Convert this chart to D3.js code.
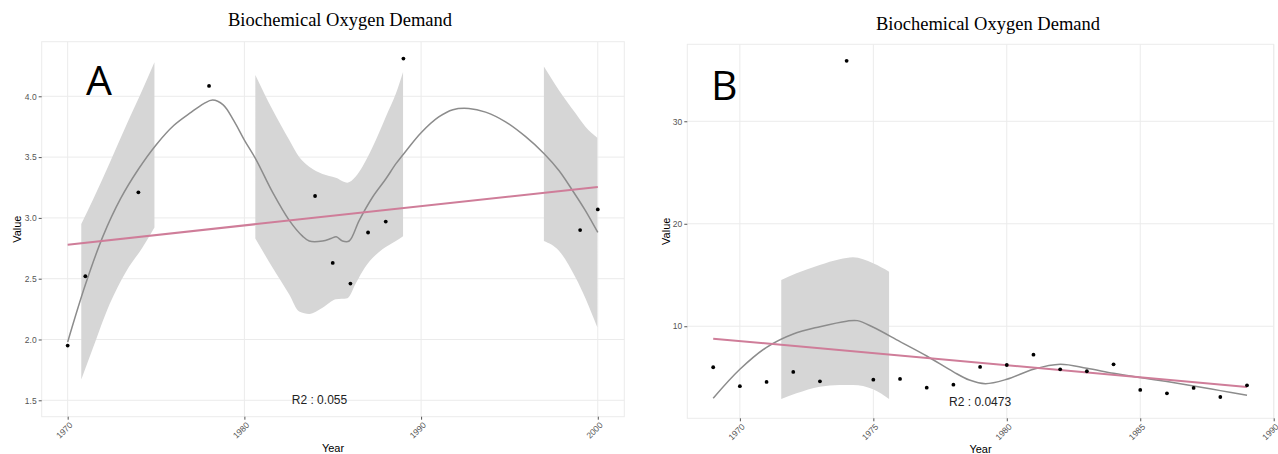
<!DOCTYPE html>
<html><head><meta charset="utf-8">
<script src="https://cdn.jsdelivr.net/npm/d3@7"></script>
<style>html,body{margin:0;padding:0;background:#fff;}svg{display:block;}</style>
</head><body>
<svg id="chart" width="1278" height="454"></svg>
<script>
// ---------- Panel A data ----------
const yearsA  = [1970,1971,1974,1978,1984,1985,1986,1987,1988,1989,1999,2000];
const valuesA = [1.95,2.52,3.21,4.085,3.18,2.63,2.46,2.88,2.97,4.31,2.90,3.07];
const fitYearsA = [1970, 2000];
const fitValuesA = [2.78, 3.255];
const smoothYearsA  = [1970,1971,1972,1973,1974,1975,1976,1977,1977.7,1978.2,1978.8,1979.4,1980.0,1980.66,1981.6,1982.54,1983.29,1983.67,1984.42,1984.9,1985.2,1985.55,1985.93,1986.5,1987.25,1988.0,1988.6,1989.2,1990.0,1991.0,1991.8,1992.7,1993.65,1994.78,1995.9,1996.95,1997.8,1998.55,1999.3,2000];
const smoothValuesA = [1.98,2.45,2.85,3.16,3.40,3.60,3.76,3.87,3.94,3.97,3.93,3.80,3.64,3.48,3.21,2.98,2.85,2.81,2.81,2.83,2.845,2.81,2.81,2.98,3.17,3.32,3.45,3.56,3.70,3.83,3.89,3.90,3.87,3.79,3.67,3.53,3.39,3.23,3.06,2.88];
const bandYearsA1 = [1970.77,1971.43,1972.37,1973.31,1974.25,1974.91];
const bandHighA1  = [2.95,3.15,3.45,3.76,4.06,4.28];
const bandLowA1   = [1.67,1.93,2.29,2.56,2.76,2.92];
const bandYearsA2 = [1980.62,1981.6,1982.54,1983.1,1983.67,1984.42,1985.17,1985.83,1986.3,1986.68,1987.25,1987.62,1988.0,1988.57,1988.98];
const bandHighA2  = [4.176,3.887,3.64,3.50,3.42,3.36,3.33,3.29,3.34,3.42,3.58,3.70,3.83,4.02,4.20];
const bandLowA2   = [2.83,2.59,2.37,2.23,2.21,2.26,2.33,2.34,2.46,2.56,2.67,2.72,2.76,2.81,2.85];
const bandYearsA3 = [1996.95,1997.8,1998.74,1999.3,1999.97];
const bandHighA3  = [4.245,4.05,3.86,3.75,3.66];
const bandLowA3   = [2.81,2.73,2.51,2.34,2.10];
const xTicksA = [1970,1980,1990,2000];
const yTicksA = [1.5,2.0,2.5,3.0,3.5,4.0];

// ---------- Panel B data ----------
const yearsB  = [1969,1970,1971,1972,1973,1974,1975,1976,1977,1978,1979,1980,1981,1982,1983,1984,1985,1986,1987,1988,1989];
const valuesB = [6.0,4.15,4.57,5.54,4.63,35.9,4.79,4.86,4.01,4.30,6.03,6.22,7.23,5.80,5.61,6.29,3.79,3.46,3.98,3.10,4.24];
const fitYearsB = [1969, 1989];
const fitValuesB = [8.79, 4.08];
const smoothYearsB  = [1969,1970,1971,1972,1973,1974,1974.4,1975,1976,1977,1978,1978.6,1979.2,1980,1981,1982,1983,1984,1985,1986,1987,1988,1989];
const smoothValuesB = [2.98,5.8,7.95,9.25,9.96,10.5,10.55,9.9,8.5,7.1,5.55,4.75,4.4,4.83,5.8,6.29,5.9,5.41,4.99,4.6,4.17,3.72,3.27];
const bandYearsB = [1971.55,1972.12,1972.99,1973.74,1974.24,1974.99,1975.59];
const bandHighB  = [14.52,15.17,15.98,16.54,16.73,16.15,15.33];
const bandLowB   = [2.91,3.46,4.11,4.27,4.27,3.85,2.91];
const xTicksB = [1970,1975,1980,1985,1990];
const yTicksB = [10,20,30];

const title = "Biochemical Oxygen Demand";

const svg = d3.select("#chart");
const zip = (xs, ys) => xs.map((x, i) => [x, ys[i]]);

function panel(cfg) {
  const x = d3.scaleLinear().domain(cfg.xDomain).range([cfg.left, cfg.right]);
  const y = d3.scaleLinear().domain(cfg.yDomain).range([cfg.bottom, cfg.top]);
  const g = svg.append("g");

  g.append("g").selectAll("line").data(cfg.xTicks).join("line")
    .attr("x1", d => x(d)).attr("x2", d => x(d))
    .attr("y1", cfg.top).attr("y2", cfg.bottom)
    .attr("stroke", "#ebebeb").attr("stroke-width", 1);
  g.append("g").selectAll("line").data(cfg.yTicks).join("line")
    .attr("y1", d => y(d)).attr("y2", d => y(d))
    .attr("x1", cfg.left).attr("x2", cfg.right)
    .attr("stroke", "#ebebeb").attr("stroke-width", 1);
  g.append("rect").attr("x", cfg.left).attr("y", cfg.top)
    .attr("width", cfg.right - cfg.left).attr("height", cfg.bottom - cfg.top)
    .attr("fill", "none").attr("stroke", "#ebebeb").attr("stroke-width", 1);

  const yAxis = d3.axisLeft(y).tickValues(cfg.yTicks).tickFormat(cfg.yFormat).tickSize(3).tickPadding(2);
  const ya = g.append("g").attr("transform", `translate(${cfg.left},0)`).call(yAxis);
  ya.select(".domain").remove();
  ya.selectAll(".tick line").attr("stroke", "#555");
  ya.selectAll(".tick text").attr("fill", "#555").attr("font-size", 8.5).attr("font-family", "Liberation Sans, Arial, sans-serif");

  const xAxis = d3.axisBottom(x).tickValues(cfg.xTicks).tickFormat(d3.format("d")).tickSize(3);
  const xa = g.append("g").attr("transform", `translate(0,${cfg.bottom})`).call(xAxis);
  xa.select(".domain").remove();
  xa.selectAll(".tick line").attr("stroke", "#555");
  xa.selectAll(".tick text")
    .attr("fill", "#555").attr("font-size", 8.5).attr("font-family", "Liberation Sans, Arial, sans-serif")
    .attr("text-anchor", "end").attr("y", 0).attr("dy", 0)
    .attr("transform", "translate(5,9) rotate(-45)");

  const area = d3.area().x(d => x(d[0])).y0(d => y(d[1])).y1(d => y(d[2])).curve(d3.curveMonotoneX);
  cfg.bands.forEach(b => {
    g.append("path").datum(b.years.map((yr, i) => [yr, b.lo[i], b.hi[i]]))
      .attr("d", area).attr("fill", "#d6d6d6");
  });

  const line = d3.line().x(d => x(d[0])).y(d => y(d[1])).curve(d3.curveCatmullRom.alpha(0.5));
  g.append("path").datum(zip(cfg.smoothX, cfg.smoothY)).attr("d", line)
    .attr("fill", "none").attr("stroke", "#8c8c8c").attr("stroke-width", 1.5);

  const lin = d3.line().x(d => x(d[0])).y(d => y(d[1]));
  g.append("path").datum(zip(cfg.fitX, cfg.fitY)).attr("d", lin)
    .attr("fill", "none").attr("stroke", "#cf7d99").attr("stroke-width", 2);

  g.append("g").selectAll("circle").data(zip(cfg.px, cfg.py)).join("circle")
    .attr("cx", d => x(d[0])).attr("cy", d => y(d[1])).attr("r", 1.9).attr("fill", "#000");

  g.append("text").attr("x", x(cfg.r2At[0])).attr("y", y(cfg.r2At[1]))
    .attr("text-anchor", "middle").attr("dominant-baseline", "central")
    .attr("font-family", "Liberation Sans, Arial, sans-serif").attr("font-size", 12).attr("fill", "#222")
    .text(cfg.r2);

  g.append("text").attr("x", cfg.titleX).attr("y", cfg.titleY).attr("text-anchor", "middle")
    .attr("font-family", "Liberation Serif, Times New Roman, serif").attr("font-size", 18.5).attr("fill", "#000")
    .text(title);
  g.append("text").attr("x", (cfg.left + cfg.right) / 2).attr("y", cfg.xTitleY).attr("text-anchor", "middle")
    .attr("font-family", "Liberation Sans, Arial, sans-serif").attr("font-size", 11).attr("fill", "#000")
    .text("Year");
  g.append("text").attr("transform", `translate(${cfg.yTitleX},${(cfg.top + cfg.bottom) / 2}) rotate(-90)`)
    .attr("text-anchor", "middle").attr("dominant-baseline", "central")
    .attr("font-family", "Liberation Sans, Arial, sans-serif").attr("font-size", 11).attr("fill", "#000")
    .text("Value");
  g.append("text").attr("x", cfg.letterX).attr("y", cfg.letterY)
    .attr("font-family", "Open Sans, Liberation Sans, sans-serif").attr("font-size", 41).attr("fill", "#000")
    .text(cfg.letter);
}

panel({
  left: 41.7, right: 624.3, top: 41.7, bottom: 416.7,
  xDomain: [1968.53, 2001.5], yDomain: [1.365, 4.449],
  xTicks: xTicksA, yTicks: yTicksA, yFormat: d3.format(".1f"),
  px: yearsA, py: valuesA, fitX: fitYearsA, fitY: fitValuesA,
  smoothX: smoothYearsA, smoothY: smoothValuesA,
  bands: [
    {years: bandYearsA1, lo: bandLowA1, hi: bandHighA1},
    {years: bandYearsA2, lo: bandLowA2, hi: bandHighA2},
    {years: bandYearsA3, lo: bandLowA3, hi: bandHighA3}
  ],
  r2: "R2 : 0.055", r2At: [1984.25, 1.5],
  titleX: 340, titleY: 26, xTitleY: 452, yTitleX: 17,
  letter: "A", letterX: 86, letterY: 95
});

panel({
  left: 687.3, right: 1273.7, top: 44.3, bottom: 418.3,
  xDomain: [1968.03, 1990.0], yDomain: [1.02, 37.51],
  xTicks: xTicksB, yTicks: yTicksB, yFormat: d3.format("d"),
  px: yearsB, py: valuesB, fitX: fitYearsB, fitY: fitValuesB,
  smoothX: smoothYearsB, smoothY: smoothValuesB,
  bands: [{years: bandYearsB, lo: bandLowB, hi: bandHighB}],
  r2: "R2 : 0.0473", r2At: [1979.0, 2.6],
  titleX: 988, titleY: 30, xTitleY: 453, yTitleX: 666,
  letter: "B", letterX: 711, letterY: 100
});
</script>
</body></html>
